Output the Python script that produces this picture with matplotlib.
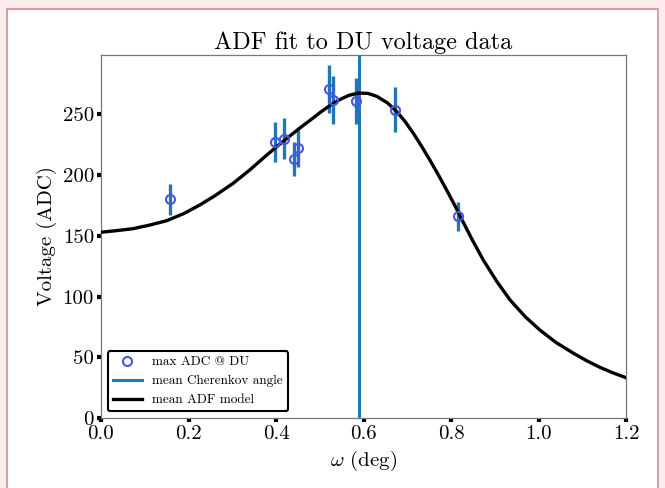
import matplotlib
matplotlib.use("Agg")
import matplotlib.pyplot as plt
from matplotlib.patches import Rectangle

plt.rcParams['font.family'] = 'cmr10'
plt.rcParams['mathtext.fontset'] = 'cm'
plt.rcParams['axes.unicode_minus'] = False

# measured DU data (omega in deg, voltage in ADC)
omega = [0.158, 0.398, 0.419, 0.440, 0.450, 0.520, 0.531, 0.582, 0.672, 0.817]
volt = [180, 227, 230, 213, 222, 271, 262, 261, 254, 166]
volt_err = [13, 16.5, 17, 14, 15.5, 20, 19.5, 19, 18.5, 12]

cherenkov_angle = 0.59

# mean ADF model curve
model_omega = [0.0, 0.04, 0.074, 0.11, 0.15, 0.19, 0.226, 0.26, 0.302, 0.34,
               0.379, 0.415, 0.455, 0.48, 0.501, 0.525, 0.546, 0.567, 0.588, 0.61,
               0.63, 0.655, 0.676, 0.695, 0.714, 0.733, 0.752, 0.771, 0.79, 0.81,
               0.828, 0.85, 0.874, 0.905, 0.935, 0.97, 1.003, 1.04, 1.08, 1.11,
               1.14, 1.17, 1.2]
model_volt = [153, 154.5, 156, 158.8, 162.5, 168.5, 175.5, 183, 193.3, 204.3,
              216.6, 227.5, 239, 245.8, 251.7, 257.8, 262.3, 265.8, 267.6, 267.4,
              265, 259.5, 252.3, 244.2, 234.5, 223.7, 212.3, 200.3, 187.8, 174.2,
              161.2, 145.8, 130, 112.3, 97.2, 83.3, 72.5, 62.2, 53.3, 47.2,
              41.8, 37.2, 33.2]

fig = plt.figure(figsize=(6.65, 4.88), dpi=100)
fig.patch.set_facecolor('#fcecec')
fig.patches.append(Rectangle((7 / 665, -0.05), 651 / 665, 1 - 9 / 488 + 0.05,
                             transform=fig.transFigure, facecolor='white',
                             edgecolor='#d28b98', lw=1.2, zorder=-1))

ax = fig.add_axes([101 / 665, 70 / 488, 525 / 665, 363 / 488])

ax.errorbar(omega, volt, yerr=volt_err, fmt='none', ecolor='#1f77b4', elinewidth=2.4, zorder=3)
ax.plot(omega, volt, 'o', mfc='none', mec='#4a55e0', ms=6.5, mew=1.5, zorder=4,
        label='max ADC @ DU')
ax.axvline(cherenkov_angle, color='#1f77b4', lw=2.2, label='mean Cherenkov angle', zorder=2)
ax.plot(model_omega, model_volt, color='black', lw=2.4, label='mean ADF model', zorder=3)

ax.set_xlim(0, 1.2)
ax.set_ylim(0, 299)
ax.set_yticks([0, 50, 100, 150, 200, 250])
ax.set_xticks([0.0, 0.2, 0.4, 0.6, 0.8, 1.0, 1.2])
ax.tick_params(direction='out', length=3, width=3, labelsize=15, pad=2)
for s in ax.spines.values():
    s.set_color('#777777')
    s.set_linewidth(0.9)

ax.set_title('ADF fit to DU voltage data', fontsize=17.5, pad=4)
ax.set_xlabel(r'$\omega$ (deg)', fontsize=15)
ax.set_ylabel('Voltage (ADC)', fontsize=15)

leg = ax.legend(loc='lower left', fontsize=9.5, frameon=True, fancybox=True,
                framealpha=1, edgecolor='black', borderpad=0.4, handlelength=2.2)
leg.get_frame().set_linewidth(1.5)

fig.savefig('out.png', dpi=100, facecolor=fig.get_facecolor())
